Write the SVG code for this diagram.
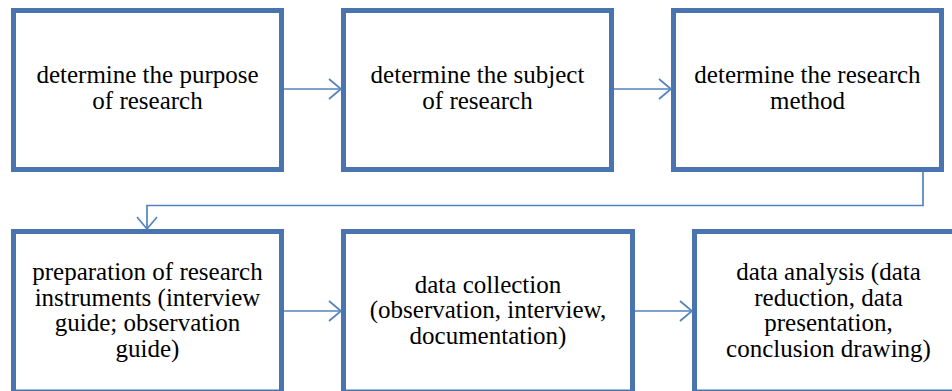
<svg xmlns="http://www.w3.org/2000/svg" width="952" height="391" viewBox="0 0 952 391">
<style>
.box{fill:#fff;stroke:#4a74ad;stroke-width:5}
.lbl{font-size:25px;fill:#000;text-anchor:middle}
.con{fill:none;stroke:#5383bf;stroke-width:1.7}
</style>
<defs>
<marker id="ah" viewBox="-14 -12 16 24" refX="0" refY="0" markerWidth="16" markerHeight="24" markerUnits="userSpaceOnUse" orient="auto">
<path d="M-12,-10 L0,0 L-12,10" fill="none" stroke="#5383bf" stroke-width="1.7"/>
</marker>
</defs>
<rect width="952" height="391" fill="#fff"/>
<g id="n1"><rect class="box" x="13.5" y="10.5" width="268" height="159"/>
<g font-family="Liberation Serif, DejaVu Serif, serif"><text class="lbl" x="147.5" y="83">determine the purpose</text><text class="lbl" x="147.5" y="109">of research</text></g></g>
<g id="n2"><rect class="box" x="343.5" y="10.5" width="268" height="159"/>
<g font-family="Liberation Serif, DejaVu Serif, serif"><text class="lbl" x="477.5" y="83">determine the subject</text><text class="lbl" x="477.5" y="109">of research</text></g></g>
<g id="n3"><rect class="box" x="673.5" y="10.5" width="268" height="159"/>
<g font-family="Liberation Serif, DejaVu Serif, serif"><text class="lbl" x="807.5" y="83">determine the research</text><text class="lbl" x="807.5" y="109">method</text></g></g>
<g id="n4"><rect class="box" x="13.5" y="231.5" width="268" height="160.5"/>
<g font-family="Liberation Serif, DejaVu Serif, serif"><text class="lbl" x="147.5" y="280">preparation of research</text><text class="lbl" x="147.5" y="305.5">instruments (interview</text><text class="lbl" x="147.5" y="331">guide; observation</text><text class="lbl" x="147.5" y="356.5">guide)</text></g></g>
<g id="n5"><rect class="box" x="343.5" y="231.5" width="289" height="160.5"/>
<g font-family="Liberation Serif, DejaVu Serif, serif"><text class="lbl" x="488" y="292.5">data collection</text><text class="lbl" x="488" y="318">(observation, interview,</text><text class="lbl" x="488" y="343.5">documentation)</text></g></g>
<g id="n6"><rect class="box" x="694.5" y="231.5" width="268" height="160.5"/>
<g font-family="Liberation Serif, DejaVu Serif, serif"><text class="lbl" x="828.5" y="280">data analysis (data</text><text class="lbl" x="828.5" y="305.5">reduction, data</text><text class="lbl" x="828.5" y="331">presentation,</text><text class="lbl" x="828.5" y="356.5">conclusion drawing)</text></g></g>
<g id="connectors">
<path class="con" d="M284,89 H341" marker-end="url(#ah)"/>
<path class="con" d="M614,89 H671" marker-end="url(#ah)"/>
<path class="con" d="M923,172 V205.5 H147 V229" marker-end="url(#ah)"/>
<path class="con" d="M284,311 H341" marker-end="url(#ah)"/>
<path class="con" d="M635,311 H692" marker-end="url(#ah)"/>
</g>
</svg>
